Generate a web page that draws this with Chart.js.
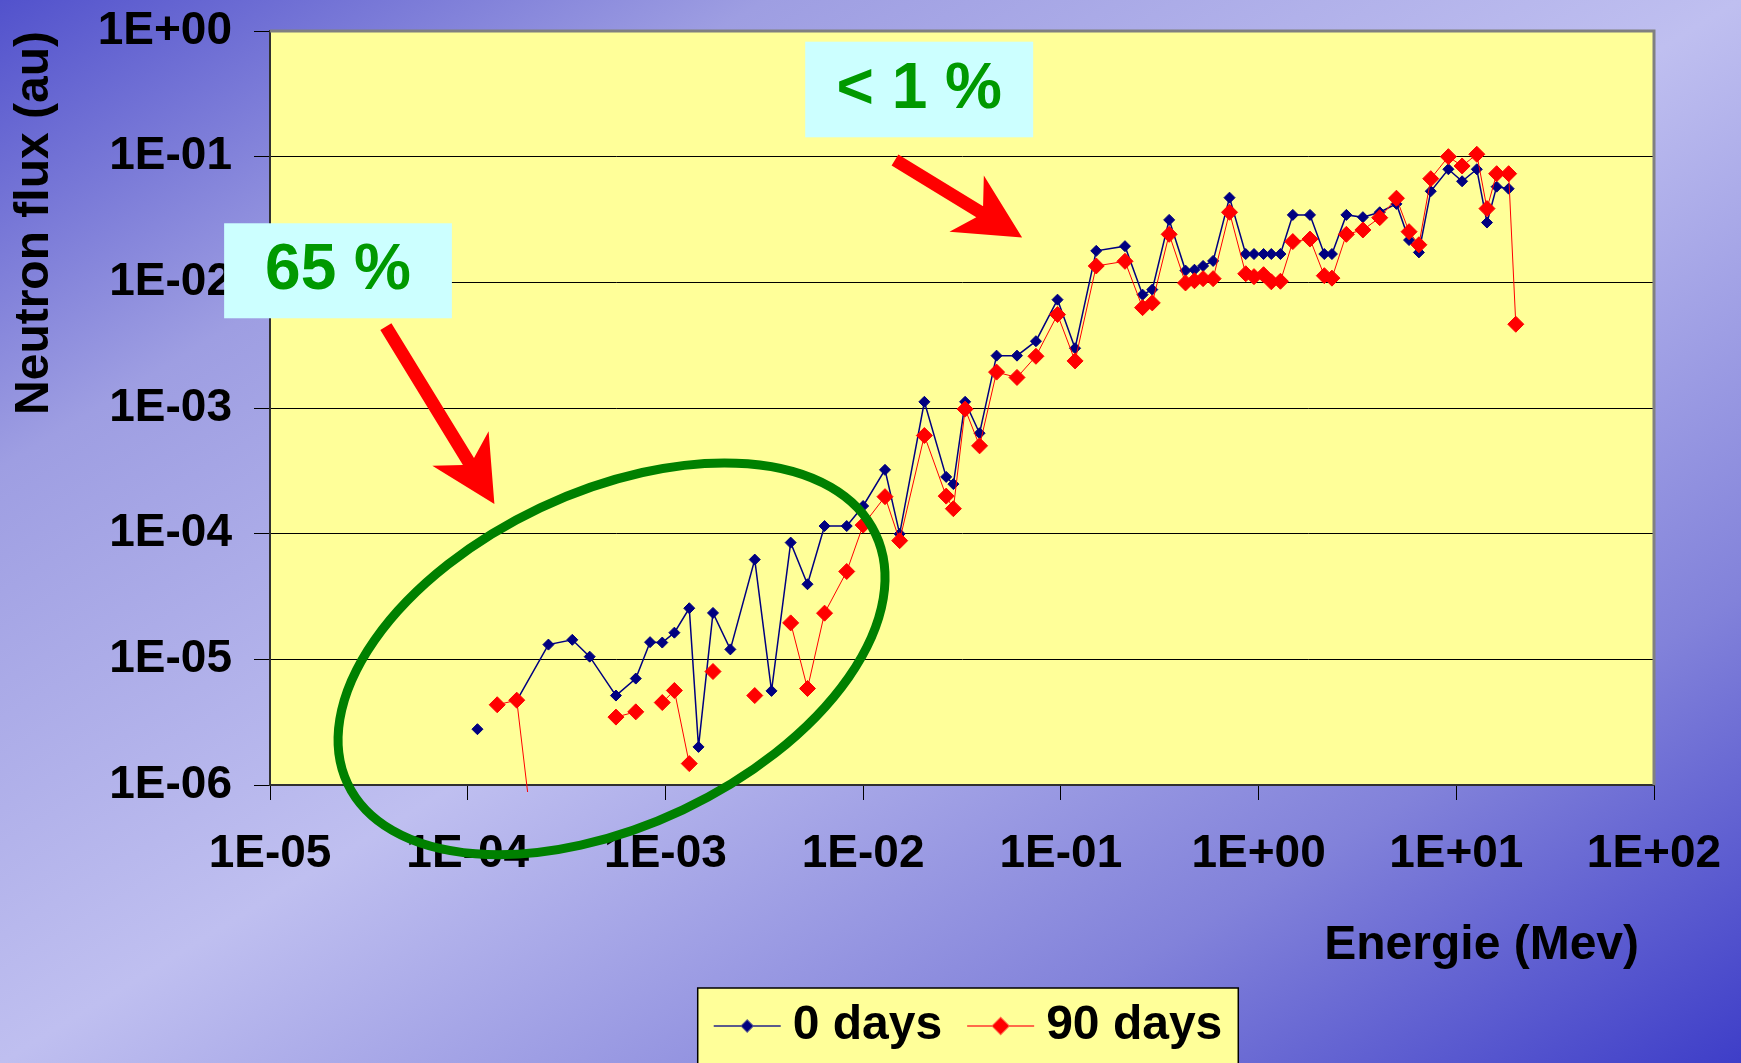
<!DOCTYPE html>
<html>
<head>
<meta charset="utf-8">
<title>Neutron flux</title>
<script src="https://cdn.jsdelivr.net/npm/chart.js@4.4.1/dist/chart.umd.min.js"></script>
<style>
  html, body { margin: 0; padding: 0; overflow: hidden; }
</style>
</head>
<body>
<canvas id="chart" width="1741" height="1063"></canvas>
<script>
// Energy grid (MeV) shared by both series; null = no value at that energy
const energy = [
  1.12e-4, 1.41e-4, 1.77e-4, 2.56e-4, 3.38e-4, 4.14e-4, 5.62e-4, 7.08e-4, 8.36e-4, 9.64e-4,
  1.11e-3, 1.32e-3, 1.47e-3, 1.74e-3, 2.13e-3, 2.83e-3, 3.44e-3, 4.30e-3, 5.23e-3, 6.38e-3,
  8.26e-3, 1.00e-2, 1.29e-2, 1.53e-2, 2.04e-2, 2.63e-2, 2.86e-2, 3.28e-2, 3.88e-2, 4.73e-2,
  6.00e-2, 7.48e-2, 9.62e-2, 0.118, 0.151, 0.211, 0.259, 0.290, 0.353, 0.427,
  0.474, 0.524, 0.589, 0.713, 0.861, 0.948, 1.06, 1.16, 1.29, 1.49,
  1.82, 2.15, 2.35, 2.78, 3.37, 4.10, 4.98, 5.77, 6.47, 7.43,
  9.12, 10.7, 12.7, 14.3, 16.0, 18.4, 20.0
];

const flux0days = [
  2.78e-6, null, 4.7e-6, 1.31e-5, 1.43e-5, 1.05e-5, 5.15e-6, 7.03e-6, 1.37e-5, 1.36e-5,
  1.63e-5, 2.55e-5, 2.01e-6, 2.34e-5, 1.20e-5, 6.22e-5, 5.61e-6, 8.49e-5, 3.96e-5, 1.15e-4,
  1.15e-4, 1.66e-4, 3.22e-4, 9.96e-5, 1.12e-3, 2.83e-4, 2.48e-4, 1.12e-3, 6.3e-4, 2.61e-3,
  2.61e-3, 3.40e-3, 7.28e-3, 2.99e-3, 1.78e-2, 1.94e-2, 7.98e-3, 8.75e-3, 3.14e-2, 1.24e-2,
  1.26e-2, 1.35e-2, 1.48e-2, 4.72e-2, 1.68e-2, 1.68e-2, 1.68e-2, 1.68e-2, 1.68e-2, 3.44e-2,
  3.44e-2, 1.68e-2, 1.68e-2, 3.44e-2, 3.30e-2, 3.61e-2, 4.21e-2, 2.17e-2, 1.73e-2, 5.31e-2,
  7.94e-2, 6.37e-2, 7.94e-2, 2.99e-2, 5.77e-2, 5.56e-2, null
];

const flux90days = [
  null, 4.35e-6, 4.73e-6, 3.5e-8, null, null, 3.47e-6, 3.82e-6, null, 4.53e-6,
  5.65e-6, 1.48e-6, null, 8.0e-6, null, 5.15e-6, null, 1.95e-5, 5.86e-6, 2.33e-5,
  5.0e-5, 1.17e-4, 1.97e-4, 8.8e-5, 6.04e-4, 1.99e-4, 1.58e-4, 9.8e-4, 5.0e-4, 1.93e-3,
  1.75e-3, 2.58e-3, 5.54e-3, 2.37e-3, 1.35e-2, 1.47e-2, 6.29e-3, 6.86e-3, 2.41e-2, 9.89e-3,
  1.03e-2, 1.07e-2, 1.07e-2, 3.61e-2, 1.17e-2, 1.11e-2, 1.15e-2, 1.01e-2, 1.02e-2, 2.11e-2,
  2.21e-2, 1.13e-2, 1.08e-2, 2.41e-2, 2.61e-2, 3.27e-2, 4.67e-2, 2.53e-2, 1.99e-2, 6.68e-2,
  0.100, 8.43e-2, 0.1045, 3.86e-2, 7.32e-2, 7.32e-2, 4.64e-3
];

const seriesLabels = ['0 days', '90 days'];

const xTicks = [1e-5, 1e-4, 1e-3, 1e-2, 1e-1, 1e0, 1e1, 1e2];
const xTickLabels = ['1E-05', '1E-04', '1E-03', '1E-02', '1E-01', '1E+00', '1E+01', '1E+02'];
const yTicks = [1e-6, 1e-5, 1e-4, 1e-3, 1e-2, 1e-1, 1e0];
const yTickLabels = ['1E-06', '1E-05', '1E-04', '1E-03', '1E-02', '1E-01', '1E+00'];

const xTitle = 'Energie (Mev)';
const yTitle = 'Neutron flux (au)';

// Call-outs, positioned in log10 data units
const callouts = [
  { text: '65 %', box: [-5.232, -1.530, -4.080, -2.286] },
  { text: '< 1 %', box: [-2.293, -0.085, -1.140, -0.846] }
];
const arrows = [
  { from: [-4.414, -2.352], to: [-3.865, -3.763] },
  { from: [-1.839, -1.026], to: [-1.196, -1.644] }
];
const ring = { center: [-3.2725, -4.996], rx: 292, ry: 167, angle: -25.3 };

const FONT = '"Liberation Sans", Arial, sans-serif';

const toPoints = values => energy.map((e, i) => ({ x: e, y: values[i] }));

const slideBackground = {
  id: 'slideBackground',
  beforeDraw(chart) {
    const { ctx, width, height, chartArea: a } = chart;
    ctx.save();
    ctx.scale(width, height);
    const g = ctx.createLinearGradient(0, 0, 1, 1);
    g.addColorStop(0, '#5252cc');
    g.addColorStop(0.22, '#9e9ee2');
    g.addColorStop(0.5, '#bfbff0');
    g.addColorStop(0.78, '#8282da');
    g.addColorStop(1, '#3e3ec8');
    ctx.fillStyle = g;
    ctx.fillRect(0, 0, 1, 1);
    ctx.restore();
    ctx.fillStyle = '#ffff99';
    ctx.fillRect(a.left, a.top, a.right - a.left, a.bottom - a.top);
  }
};

function drawArrow(ctx, sx, sy, tx, ty) {
  const len = Math.hypot(tx - sx, ty - sy);
  const dx = (tx - sx) / len, dy = (ty - sy) / len;
  const nx = -dy, ny = dx;
  const headBack = 65, headHalf = 33, shaftBack = 49.7, shaftHalf = 6.5;
  const pt = (back, lat) => [tx - dx * back + nx * lat, ty - dy * back + ny * lat];
  const poly = [
    pt(len, shaftHalf), pt(shaftBack, shaftHalf), pt(headBack, headHalf), pt(0, 0),
    pt(headBack, -headHalf), pt(shaftBack, -shaftHalf), pt(len, -shaftHalf)
  ];
  ctx.fillStyle = '#ff0000';
  ctx.beginPath();
  poly.forEach(([x, y], i) => (i ? ctx.lineTo(x, y) : ctx.moveTo(x, y)));
  ctx.closePath();
  ctx.fill();
}

const overlays = {
  id: 'overlays',
  afterDraw(chart) {
    const { ctx, chartArea: a, scales } = chart;
    const px = lx => scales.x.getPixelForValue(Math.pow(10, lx));
    const py = ly => scales.y.getPixelForValue(Math.pow(10, ly));
    ctx.save();

    // grey plot-area frame (top, right)
    ctx.strokeStyle = '#808080';
    ctx.lineWidth = 3;
    ctx.beginPath();
    ctx.moveTo(a.left, a.top);
    ctx.lineTo(a.right, a.top);
    ctx.lineTo(a.right, a.bottom);
    ctx.stroke();

    // x axis title sits a little inside the right edge of the plot
    ctx.fillStyle = '#000';
    ctx.font = 'bold 48px ' + FONT;
    ctx.textAlign = 'right';
    ctx.textBaseline = 'middle';
    ctx.fillText(xTitle, a.right - 15, a.bottom + 161);

    // green ellipse
    ctx.beginPath();
    ctx.ellipse(px(ring.center[0]), py(ring.center[1]), ring.rx, ring.ry,
      ring.angle * Math.PI / 180, 0, Math.PI * 2);
    ctx.strokeStyle = '#008000';
    ctx.lineWidth = 9;
    ctx.stroke();

    arrows.forEach(ar => drawArrow(ctx, px(ar.from[0]), py(ar.from[1]), px(ar.to[0]), py(ar.to[1])));

    callouts.forEach(c => {
      const x1 = px(c.box[0]), y1 = py(c.box[1]), x2 = px(c.box[2]), y2 = py(c.box[3]);
      ctx.fillStyle = '#ccffff';
      ctx.fillRect(x1, y1, x2 - x1, y2 - y1);
      ctx.fillStyle = '#009900';
      ctx.font = 'bold 64px ' + FONT;
      ctx.textAlign = 'center';
      ctx.textBaseline = 'middle';
      ctx.fillText(c.text, (x1 + x2) / 2, (y1 + y2) / 2 + 1);
    });

    // legend box below the axis
    ctx.font = 'bold 48px ' + FONT;
    const lineLen = 67, gapText = 12, gapItem = 25, padX = 16;
    const items = chart.data.datasets.map(ds => ({ ds, w: ctx.measureText(ds.label).width }));
    const total = padX * 2 + items.reduce((s, it) => s + lineLen + gapText + it.w, 0) + gapItem * (items.length - 1);
    const cx = (a.left + a.right) / 2 + 6;
    const boxTop = a.bottom + 203;
    const boxLeft = cx - total / 2;
    ctx.fillStyle = '#ffff99';
    ctx.fillRect(boxLeft, boxTop, total, 120);
    ctx.strokeStyle = '#000';
    ctx.lineWidth = 1.5;
    ctx.strokeRect(boxLeft, boxTop, total, 120);
    const rowY = boxTop + 38;
    let cur = boxLeft + padX;
    items.forEach(({ ds, w }) => {
      ctx.strokeStyle = ds.legendLine;
      ctx.lineWidth = 2;
      ctx.beginPath();
      ctx.moveTo(cur, rowY);
      ctx.lineTo(cur + lineLen, rowY);
      ctx.stroke();
      Chart.helpers.drawPoint(ctx, {
        pointStyle: 'rectRot', radius: ds.pointRadius, borderWidth: 1
      }, cur + lineLen / 2, rowY);
      ctx.fillStyle = ds.pointBackgroundColor;
      ctx.fill();
      cur += lineLen + gapText;
      ctx.fillStyle = '#000';
      ctx.textAlign = 'left';
      ctx.textBaseline = 'middle';
      ctx.fillText(ds.label, cur, rowY);
      cur += w + gapItem;
    });

    ctx.restore();
  }
};

const tickFont = { family: FONT, size: 46, weight: 'bold' };
const titleFont = { family: FONT, size: 48, weight: 'bold' };

new Chart(document.getElementById('chart'), {
  type: 'scatter',
  data: {
    datasets: [
      {
        label: seriesLabels[0],
        data: toPoints(flux0days),
        showLine: true,
        borderColor: '#000080',
        legendLine: '#5a5a8c',
        borderWidth: 1.5,
        pointStyle: 'rectRot',
        pointRadius: 5.5,
        pointBorderWidth: 1,
        pointBackgroundColor: '#000080',
        pointBorderColor: '#000080',
        order: 1
      },
      {
        label: seriesLabels[1],
        data: toPoints(flux90days),
        showLine: true,
        borderColor: '#ff0000',
        legendLine: '#ff6a4a',
        borderWidth: 1,
        pointStyle: 'rectRot',
        pointRadius: 8,
        pointBorderWidth: 1,
        pointBackgroundColor: '#ff0000',
        pointBorderColor: '#ff0000',
        clip: { left: 1, top: 1, right: 1, bottom: 7 },
        order: 0
      }
    ]
  },
  options: {
    responsive: false,
    animation: false,
    layout: { padding: { left: 0, top: 31, right: 87, bottom: 0 } },
    scales: {
      x: {
        type: 'logarithmic',
        min: 1e-5,
        max: 1e2,
        afterBuildTicks: s => { s.ticks = xTicks.map(v => ({ value: v })); },
        afterFit: s => { s.height = 278; s.paddingLeft = 0; s.paddingRight = 0; },
        ticks: {
          autoSkip: false,
          maxRotation: 0,
          padding: 27,
          color: '#000',
          font: tickFont,
          callback: (v, i) => xTickLabels[i]
        },
        grid: { drawOnChartArea: false, tickLength: 15, tickColor: '#000', lineWidth: 1 },
        border: { display: true, color: '#303030', width: 2 },
        title: { display: false, text: xTitle }
      },
      y: {
        type: 'logarithmic',
        min: 1e-6,
        max: 1,
        afterBuildTicks: s => { s.ticks = yTicks.map(v => ({ value: v })); },
        afterFit: s => { s.width = 270; s.paddingTop = 0; s.paddingBottom = 0; },
        ticks: {
          autoSkip: false,
          padding: 22,
          color: '#000',
          font: tickFont,
          callback: (v, i) => yTickLabels[i]
        },
        grid: { color: '#000', lineWidth: 1, tickLength: 16, tickColor: '#000' },
        border: { display: true, color: '#303030', width: 2 },
        title: {
          display: true,
          text: yTitle,
          align: 'end',
          color: '#000',
          font: titleFont,
          padding: { top: 6, bottom: 0 }
        }
      }
    },
    plugins: {
      legend: { display: false },
      tooltip: { enabled: false }
    }
  },
  plugins: [slideBackground, overlays]
});
</script>
</body>
</html>
